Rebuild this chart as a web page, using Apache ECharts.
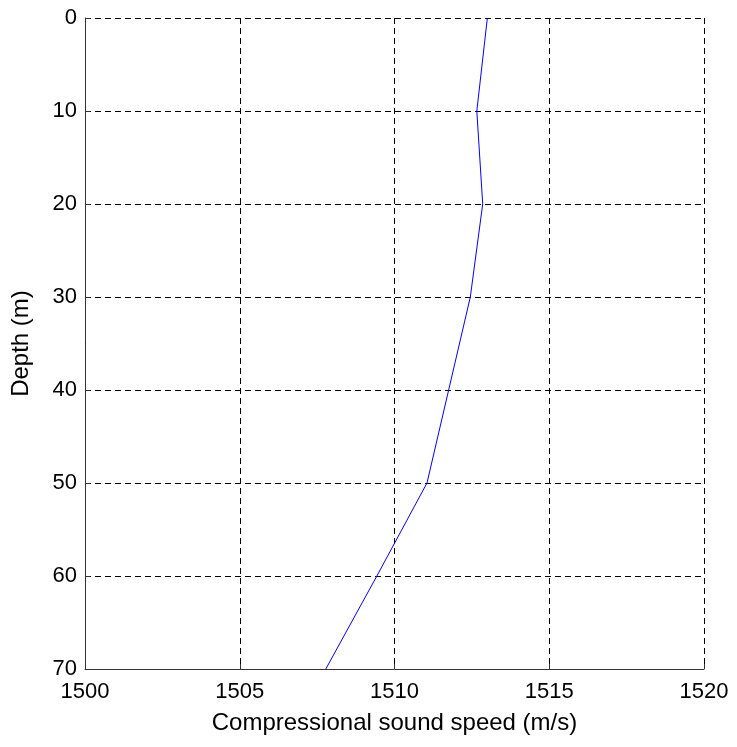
<!DOCTYPE html>
<html>
<head>
<meta charset="utf-8">
<script src="https://cdn.jsdelivr.net/npm/echarts@6/dist/echarts.min.js"></script>
<style>
  html, body { margin: 0; padding: 0; background: #fff; }
  #chart { width: 737px; height: 747px; }
</style>
</head>
<body>
<div id="chart"></div>
<script>
// Sound speed profile: depth (m) vs compressional sound speed (m/s)
const depths = [0, 10, 20, 30, 40, 50, 60, 70];
const soundSpeed = [1513.0, 1512.66, 1512.85, 1512.45, 1511.75, 1511.05, 1509.43, 1507.78];
const speedTicks = [1500, 1505, 1510, 1515, 1520];
const depthTicks = [0, 10, 20, 30, 40, 50, 60, 70];

const profile = depths.map((d, i) => [soundSpeed[i], d]);

const font = '"Liberation Sans", Arial, sans-serif';
const gridLine = { show: true, lineStyle: { color: '#000', width: 1, type: [6, 4] } };

const chart = echarts.init(document.getElementById('chart'), null, { renderer: 'canvas' });
chart.setOption({
  backgroundColor: '#fff',
  animation: false,
  grid: { left: 85, top: 18, right: 33, bottom: 78, containLabel: false, outerBoundsMode: 'none' },
  xAxis: [{
    type: 'value',
    min: speedTicks[0],
    max: speedTicks[speedTicks.length - 1],
    interval: 5,
    name: 'Compressional sound speed (m/s)',
    nameLocation: 'middle',
    nameGap: 42,
    nameTextStyle: { color: '#000', fontFamily: font, fontSize: 24 },
    axisLine: { show: true, onZero: false, lineStyle: { color: '#333', width: 1 } },
    axisTick: { show: true, inside: true, length: 5, lineStyle: { color: '#333' } },
    axisLabel: { color: '#000', fontFamily: font, fontSize: 22, margin: 12, formatter: v => String(v) },
    splitLine: gridLine
  }],
  yAxis: [{
    type: 'value',
    inverse: true,
    min: depthTicks[0],
    max: depthTicks[depthTicks.length - 1],
    interval: 10,
    name: 'Depth (m)',
    nameLocation: 'middle',
    nameGap: 52,
    nameTextStyle: { color: '#000', fontFamily: font, fontSize: 24 },
    axisLine: { show: true, onZero: false, lineStyle: { color: '#333', width: 1 } },
    axisTick: { show: true, inside: true, length: 5, lineStyle: { color: '#333' } },
    axisLabel: { color: '#000', fontFamily: font, fontSize: 22, margin: 8, formatter: v => String(v) },
    splitLine: gridLine
  }],
  series: [{
    type: 'line',
    data: profile,
    showSymbol: false,
    symbol: 'none',
    lineStyle: { color: '#0000ff', width: 1 },
    z: 5
  }]
});
</script>
</body>
</html>
